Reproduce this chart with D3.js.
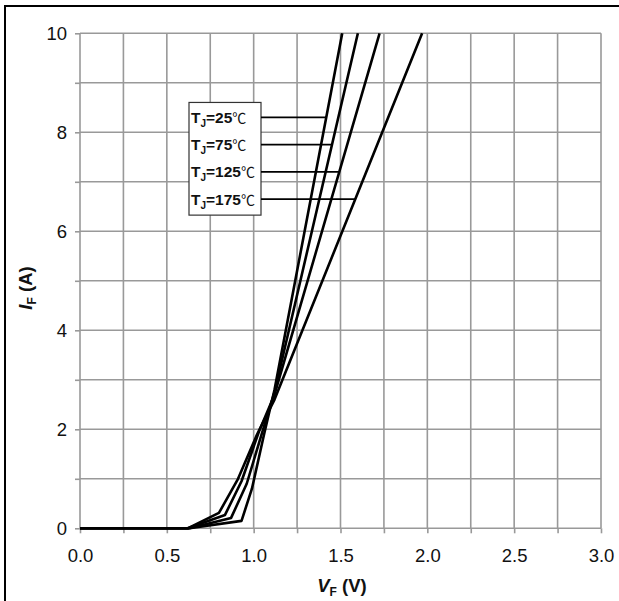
<!DOCTYPE html>
<html>
<head>
<meta charset="utf-8">
<script src="https://cdn.jsdelivr.net/npm/d3@7/dist/d3.min.js"></script>
<style>
  body { margin: 0; background: #fff; }
  svg text { font-family: "Liberation Sans", Arial, sans-serif; }
</style>
</head>
<body>
<div id="chart"></div>
<script>
// forward characteristics, one polyline per junction temperature
const temps = ["25", "75", "125", "175"];
const vf25 = [0, 0.63, 0.93, 0.99, 1.06, 1.12, 1.51];
const if25 = [0, 0, 0.15, 0.8, 1.9, 2.8, 10];
const vf75 = [0, 0.63, 0.87, 0.96, 1.05, 1.12, 1.60];
const if75 = [0, 0, 0.21, 0.9, 1.95, 2.75, 10];
const vf125 = [0, 0.62, 0.835, 0.93, 1.03, 1.12, 1.725];
const if125 = [0, 0, 0.27, 0.95, 1.95, 2.7, 10];
const vf175 = [0, 0.62, 0.80, 0.91, 1.02, 1.12, 1.97];
const if175 = [0, 0, 0.31, 1.0, 1.9, 2.6, 10];
// current where each legend leader meets its curve
const leaderI = [8.3, 7.75, 7.2, 6.65];

const xTicks = d3.range(0, 3.001, 0.25);
const yTicks = d3.range(0, 10.001, 1);

const W = 619, H = 601;
const x = d3.scaleLinear().domain([0, 3]).range([80, 601]);
const y = d3.scaleLinear().domain([0, 10]).range([528.3, 33.3]);

const curves = [
  { v: vf25, i: if25 },
  { v: vf75, i: if75 },
  { v: vf125, i: if125 },
  { v: vf175, i: if175 },
];

const svg = d3.select("#chart").append("svg")
  .attr("width", W).attr("height", H);

// outer frame (runs off the right and bottom)
svg.append("rect")
  .attr("x", 5).attr("y", 6)
  .attr("width", 640).attr("height", 640)
  .attr("fill", "none").attr("stroke", "#000").attr("stroke-width", 2);

// grid
const grid = svg.append("g").attr("stroke", "#999").attr("stroke-width", 1.6);
grid.selectAll(".gx").data(xTicks).enter().append("line")
  .attr("x1", d => x(d)).attr("x2", d => x(d))
  .attr("y1", y(0)).attr("y2", y(10));
grid.selectAll(".gy").data(yTicks).enter().append("line")
  .attr("x1", x(0)).attr("x2", x(3))
  .attr("y1", d => y(d)).attr("y2", d => y(d));

// axes
const xAxis = d3.axisBottom(x).tickValues(xTicks)
  .tickSize(5).tickSizeOuter(0).tickPadding(16)
  .tickFormat((d, i) => (i % 2 ? "" : d.toFixed(1)));
const yAxis = d3.axisLeft(y).tickValues(yTicks)
  .tickSize(5).tickSizeOuter(0).tickPadding(8)
  .tickFormat((d, i) => (i % 2 ? "" : d));

const gx = svg.append("g").attr("transform", `translate(0,${y(0)})`).call(xAxis);
const gy = svg.append("g").attr("transform", `translate(${x(0)},0)`).call(yAxis);
[gx, gy].forEach(g => {
  g.select(".domain").remove();
  g.selectAll("line").attr("stroke", "#999").attr("stroke-width", 1.6);
  g.selectAll("text").attr("font-size", 18.5).attr("fill", "#111")
    .attr("font-family", "Liberation Sans, Arial, sans-serif");
});

// curves
const line = d3.line().x(d => x(d[0])).y(d => y(d[1]));
svg.append("g").selectAll("path").data(curves).enter().append("path")
  .attr("d", c => line(c.v.map((v, k) => [v, c.i[k]])))
  .attr("fill", "none").attr("stroke", "#000")
  .attr("stroke-width", 2.6).attr("stroke-linejoin", "round");

// legend box + leader lines
const boxL = 189, boxR = 261;
const rowsY = leaderI.map(d => y(d));
svg.append("rect")
  .attr("x", boxL).attr("y", rowsY[0] - 15)
  .attr("width", boxR - boxL).attr("height", rowsY[3] - rowsY[0] + 31)
  .attr("fill", "#fff").attr("stroke", "#333").attr("stroke-width", 1.2);

// where does the curve reach the leader current
function vAt(c, I) {
  for (let k = 1; k < c.i.length; k++) {
    if (c.i[k] >= I && c.i[k - 1] < I) {
      const t = (I - c.i[k - 1]) / (c.i[k] - c.i[k - 1]);
      return c.v[k - 1] + t * (c.v[k] - c.v[k - 1]);
    }
  }
  return c.v[c.v.length - 1];
}

svg.append("g").selectAll("line").data(curves).enter().append("line")
  .attr("x1", boxR).attr("x2", (c, k) => x(vAt(c, leaderI[k])))
  .attr("y1", (c, k) => rowsY[k]).attr("y2", (c, k) => rowsY[k])
  .attr("stroke", "#000").attr("stroke-width", 1.8);

const lab = svg.append("g").selectAll("text").data(temps).enter().append("text")
  .attr("x", boxL + 2).attr("y", (d, k) => rowsY[k] + 5.5)
  .attr("font-size", 15.5).attr("font-weight", "bold").attr("fill", "#111");
lab.append("tspan").text("T");
lab.append("tspan").text("J").attr("font-size", 10).attr("dy", 4);
lab.append("tspan").text(d => "=" + d).attr("dy", -4);
lab.append("tspan").text("\u2103").attr("font-weight", "normal")
  .attr("font-family", "Noto Sans CJK SC, DejaVu Sans, sans-serif").attr("font-size", 14);

// axis titles
const xt = svg.append("text").attr("x", 342).attr("y", 592)
  .attr("text-anchor", "middle").attr("font-size", 18.5).attr("font-weight", "bold").attr("fill", "#111");
xt.append("tspan").text("V").attr("font-style", "italic");
xt.append("tspan").text("F").attr("font-size", 12).attr("dy", 4);
xt.append("tspan").text(" (V)").attr("dy", -4);

const yt = svg.append("text")
  .attr("transform", "translate(32,288) rotate(-90)")
  .attr("text-anchor", "middle").attr("font-size", 18.5).attr("font-weight", "bold").attr("fill", "#111");
yt.append("tspan").text("I").attr("font-style", "italic");
yt.append("tspan").text("F").attr("font-size", 12).attr("dy", 4);
yt.append("tspan").text(" (A)").attr("dy", -4);
</script>
</body>
</html>
